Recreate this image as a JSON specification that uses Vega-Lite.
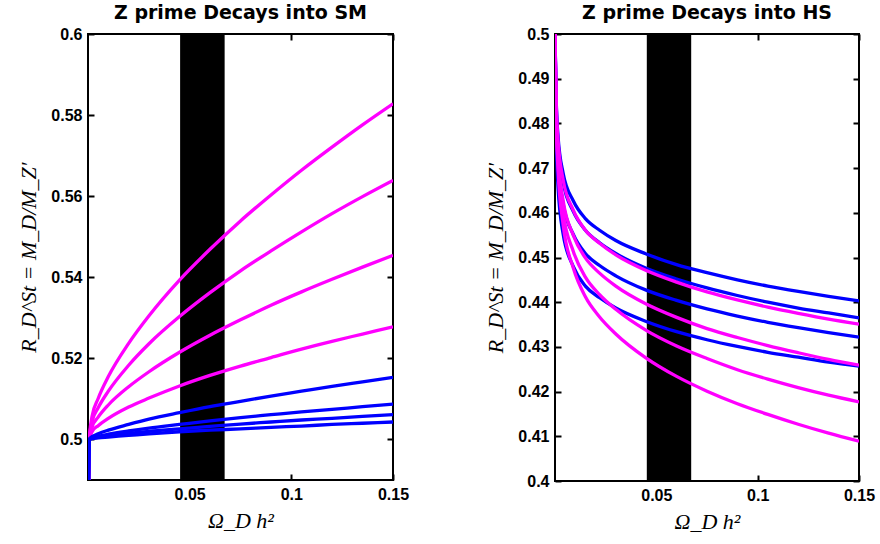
{
  "$schema": "https://vega.github.io/schema/vega-lite/v6.json",
  "background": "white",
  "padding": {"left": 16, "top": 3, "right": 5, "bottom": 5},
  "bounds": "flush",
  "spacing": 162,
  "config": {
    "view": {"stroke": "black", "strokeWidth": 2},
    "axis": {
      "grid": false, "domain": false, "labelFlush": false, "labelOverlap": false,
      "labelFont": "Liberation Sans", "labelFontWeight": "bold", "labelFontSize": 16, "labelColor": "black",
      "tickColor": "black", "tickWidth": 2, "tickSize": -6, "labelPadding": 12,
      "titleFont": "Liberation Serif", "titleFontStyle": "italic", "titleFontWeight": "normal", "titleFontSize": 22, "titleColor": "black"
    },
    "title": {"font": "DejaVu Sans", "fontSize": 19, "fontWeight": "bold", "color": "black", "anchor": "middle", "offset": 3}
  },
  "datasets": {
    "band": [{"x0": 0.0453, "x1": 0.0672}],
    "sm": [
      {"series":"M1","family":"A","x":0,"y":0.47},{"series":"M1","family":"A","x":0.0006,"y":0.5},{"series":"M1","family":"A","x":0.002,"y":0.5057},{"series":"M1","family":"A","x":0.005,"y":0.5101},{"series":"M1","family":"A","x":0.01,"y":0.5155},{"series":"M1","family":"A","x":0.02,"y":0.5237},{"series":"M1","family":"A","x":0.03,"y":0.5305},{"series":"M1","family":"A","x":0.045,"y":0.5393},{"series":"M1","family":"A","x":0.06,"y":0.5469},{"series":"M1","family":"A","x":0.075,"y":0.5539},{"series":"M1","family":"A","x":0.09,"y":0.5603},{"series":"M1","family":"A","x":0.105,"y":0.5664},{"series":"M1","family":"A","x":0.12,"y":0.5721},{"series":"M1","family":"A","x":0.135,"y":0.5776},{"series":"M1","family":"A","x":0.15,"y":0.5828},
      {"series":"M2","family":"A","x":0,"y":0.47},{"series":"M2","family":"A","x":0.0006,"y":0.5},{"series":"M2","family":"A","x":0.002,"y":0.5044},{"series":"M2","family":"A","x":0.005,"y":0.5078},{"series":"M2","family":"A","x":0.01,"y":0.5119},{"series":"M2","family":"A","x":0.02,"y":0.5183},{"series":"M2","family":"A","x":0.03,"y":0.5236},{"series":"M2","family":"A","x":0.045,"y":0.5303},{"series":"M2","family":"A","x":0.06,"y":0.5362},{"series":"M2","family":"A","x":0.075,"y":0.5416},{"series":"M2","family":"A","x":0.09,"y":0.5465},{"series":"M2","family":"A","x":0.105,"y":0.5512},{"series":"M2","family":"A","x":0.12,"y":0.5557},{"series":"M2","family":"A","x":0.135,"y":0.5599},{"series":"M2","family":"A","x":0.15,"y":0.5639},
      {"series":"M3","family":"A","x":0,"y":0.47},{"series":"M3","family":"A","x":0.0006,"y":0.5},{"series":"M3","family":"A","x":0.002,"y":0.5031},{"series":"M3","family":"A","x":0.005,"y":0.5055},{"series":"M3","family":"A","x":0.01,"y":0.5085},{"series":"M3","family":"A","x":0.02,"y":0.5130},{"series":"M3","family":"A","x":0.03,"y":0.5167},{"series":"M3","family":"A","x":0.045,"y":0.5215},{"series":"M3","family":"A","x":0.06,"y":0.5257},{"series":"M3","family":"A","x":0.075,"y":0.5295},{"series":"M3","family":"A","x":0.09,"y":0.5331},{"series":"M3","family":"A","x":0.105,"y":0.5364},{"series":"M3","family":"A","x":0.12,"y":0.5395},{"series":"M3","family":"A","x":0.135,"y":0.5425},{"series":"M3","family":"A","x":0.15,"y":0.5454},
      {"series":"M4","family":"A","x":0,"y":0.47},{"series":"M4","family":"A","x":0.0006,"y":0.5},{"series":"M4","family":"A","x":0.002,"y":0.5019},{"series":"M4","family":"A","x":0.005,"y":0.5034},{"series":"M4","family":"A","x":0.01,"y":0.5052},{"series":"M4","family":"A","x":0.02,"y":0.5080},{"series":"M4","family":"A","x":0.03,"y":0.5102},{"series":"M4","family":"A","x":0.045,"y":0.5132},{"series":"M4","family":"A","x":0.06,"y":0.5158},{"series":"M4","family":"A","x":0.075,"y":0.5181},{"series":"M4","family":"A","x":0.09,"y":0.5202},{"series":"M4","family":"A","x":0.105,"y":0.5223},{"series":"M4","family":"A","x":0.12,"y":0.5242},{"series":"M4","family":"A","x":0.135,"y":0.5260},{"series":"M4","family":"A","x":0.15,"y":0.5278},
      {"series":"B1","family":"B","x":0,"y":0.47},{"series":"B1","family":"B","x":0.0006,"y":0.5},{"series":"B1","family":"B","x":0.002,"y":0.5007},{"series":"B1","family":"B","x":0.005,"y":0.5014},{"series":"B1","family":"B","x":0.01,"y":0.5023},{"series":"B1","family":"B","x":0.02,"y":0.5037},{"series":"B1","family":"B","x":0.03,"y":0.5050},{"series":"B1","family":"B","x":0.045,"y":0.5066},{"series":"B1","family":"B","x":0.06,"y":0.5081},{"series":"B1","family":"B","x":0.075,"y":0.5094},{"series":"B1","family":"B","x":0.09,"y":0.5107},{"series":"B1","family":"B","x":0.105,"y":0.5119},{"series":"B1","family":"B","x":0.12,"y":0.5131},{"series":"B1","family":"B","x":0.135,"y":0.5142},{"series":"B1","family":"B","x":0.15,"y":0.5153},
      {"series":"B2","family":"B","x":0,"y":0.47},{"series":"B2","family":"B","x":0.0006,"y":0.5},{"series":"B2","family":"B","x":0.002,"y":0.5004},{"series":"B2","family":"B","x":0.005,"y":0.5008},{"series":"B2","family":"B","x":0.01,"y":0.5013},{"series":"B2","family":"B","x":0.02,"y":0.5021},{"series":"B2","family":"B","x":0.03,"y":0.5028},{"series":"B2","family":"B","x":0.045,"y":0.5037},{"series":"B2","family":"B","x":0.06,"y":0.5046},{"series":"B2","family":"B","x":0.075,"y":0.5054},{"series":"B2","family":"B","x":0.09,"y":0.5061},{"series":"B2","family":"B","x":0.105,"y":0.5068},{"series":"B2","family":"B","x":0.12,"y":0.5074},{"series":"B2","family":"B","x":0.135,"y":0.5081},{"series":"B2","family":"B","x":0.15,"y":0.5087},
      {"series":"B3","family":"B","x":0,"y":0.47},{"series":"B3","family":"B","x":0.0006,"y":0.5},{"series":"B3","family":"B","x":0.002,"y":0.5003},{"series":"B3","family":"B","x":0.005,"y":0.5006},{"series":"B3","family":"B","x":0.01,"y":0.5009},{"series":"B3","family":"B","x":0.02,"y":0.5015},{"series":"B3","family":"B","x":0.03,"y":0.5020},{"series":"B3","family":"B","x":0.045,"y":0.5026},{"series":"B3","family":"B","x":0.06,"y":0.5032},{"series":"B3","family":"B","x":0.075,"y":0.5038},{"series":"B3","family":"B","x":0.09,"y":0.5043},{"series":"B3","family":"B","x":0.105,"y":0.5048},{"series":"B3","family":"B","x":0.12,"y":0.5052},{"series":"B3","family":"B","x":0.135,"y":0.5057},{"series":"B3","family":"B","x":0.15,"y":0.5061},
      {"series":"B4","family":"B","x":0,"y":0.47},{"series":"B4","family":"B","x":0.0006,"y":0.5},{"series":"B4","family":"B","x":0.002,"y":0.5002},{"series":"B4","family":"B","x":0.005,"y":0.5004},{"series":"B4","family":"B","x":0.01,"y":0.5006},{"series":"B4","family":"B","x":0.02,"y":0.5010},{"series":"B4","family":"B","x":0.03,"y":0.5014},{"series":"B4","family":"B","x":0.045,"y":0.5019},{"series":"B4","family":"B","x":0.06,"y":0.5023},{"series":"B4","family":"B","x":0.075,"y":0.5026},{"series":"B4","family":"B","x":0.09,"y":0.5030},{"series":"B4","family":"B","x":0.105,"y":0.5033},{"series":"B4","family":"B","x":0.12,"y":0.5037},{"series":"B4","family":"B","x":0.135,"y":0.5040},{"series":"B4","family":"B","x":0.15,"y":0.5043}
    ],
    "hs": [
      {"series":"B1","family":"B","x":0,"y":0.5},{"series":"B1","family":"B","x":0.0005,"y":0.4868},{"series":"B1","family":"B","x":0.0015,"y":0.4771},{"series":"B1","family":"B","x":0.004,"y":0.4689},{"series":"B1","family":"B","x":0.009,"y":0.4627},{"series":"B1","family":"B","x":0.015,"y":0.4587},{"series":"B1","family":"B","x":0.022,"y":0.4561},{"series":"B1","family":"B","x":0.03,"y":0.4538},{"series":"B1","family":"B","x":0.045,"y":0.4508},{"series":"B1","family":"B","x":0.06,"y":0.4484},{"series":"B1","family":"B","x":0.075,"y":0.4466},{"series":"B1","family":"B","x":0.09,"y":0.4450},{"series":"B1","family":"B","x":0.105,"y":0.4436},{"series":"B1","family":"B","x":0.12,"y":0.4424},{"series":"B1","family":"B","x":0.135,"y":0.4413},{"series":"B1","family":"B","x":0.15,"y":0.4403},
      {"series":"B2","family":"B","x":0,"y":0.5},{"series":"B2","family":"B","x":0.0005,"y":0.4860},{"series":"B2","family":"B","x":0.0015,"y":0.4757},{"series":"B2","family":"B","x":0.004,"y":0.4669},{"series":"B2","family":"B","x":0.009,"y":0.4603},{"series":"B2","family":"B","x":0.015,"y":0.4561},{"series":"B2","family":"B","x":0.022,"y":0.4533},{"series":"B2","family":"B","x":0.03,"y":0.4509},{"series":"B2","family":"B","x":0.045,"y":0.4476},{"series":"B2","family":"B","x":0.06,"y":0.4452},{"series":"B2","family":"B","x":0.075,"y":0.4432},{"series":"B2","family":"B","x":0.09,"y":0.4415},{"series":"B2","family":"B","x":0.105,"y":0.4400},{"series":"B2","family":"B","x":0.12,"y":0.4387},{"series":"B2","family":"B","x":0.135,"y":0.4376},{"series":"B2","family":"B","x":0.15,"y":0.4365},
      {"series":"B3","family":"B","x":0,"y":0.5},{"series":"B3","family":"B","x":0.0005,"y":0.4832},{"series":"B3","family":"B","x":0.0015,"y":0.4715},{"series":"B3","family":"B","x":0.004,"y":0.4620},{"series":"B3","family":"B","x":0.009,"y":0.4552},{"series":"B3","family":"B","x":0.015,"y":0.4509},{"series":"B3","family":"B","x":0.022,"y":0.4482},{"series":"B3","family":"B","x":0.03,"y":0.4459},{"series":"B3","family":"B","x":0.045,"y":0.4427},{"series":"B3","family":"B","x":0.06,"y":0.4404},{"series":"B3","family":"B","x":0.075,"y":0.4385},{"series":"B3","family":"B","x":0.09,"y":0.4369},{"series":"B3","family":"B","x":0.105,"y":0.4355},{"series":"B3","family":"B","x":0.12,"y":0.4343},{"series":"B3","family":"B","x":0.135,"y":0.4332},{"series":"B3","family":"B","x":0.15,"y":0.4322},
      {"series":"B4","family":"B","x":0,"y":0.5},{"series":"B4","family":"B","x":0.0005,"y":0.4794},{"series":"B4","family":"B","x":0.0015,"y":0.4658},{"series":"B4","family":"B","x":0.004,"y":0.4553},{"series":"B4","family":"B","x":0.009,"y":0.4480},{"series":"B4","family":"B","x":0.015,"y":0.4436},{"series":"B4","family":"B","x":0.022,"y":0.4410},{"series":"B4","family":"B","x":0.03,"y":0.4387},{"series":"B4","family":"B","x":0.045,"y":0.4357},{"series":"B4","family":"B","x":0.06,"y":0.4334},{"series":"B4","family":"B","x":0.075,"y":0.4316},{"series":"B4","family":"B","x":0.09,"y":0.4301},{"series":"B4","family":"B","x":0.105,"y":0.4288},{"series":"B4","family":"B","x":0.12,"y":0.4277},{"series":"B4","family":"B","x":0.135,"y":0.4266},{"series":"B4","family":"B","x":0.15,"y":0.4257},
      {"series":"M1","family":"A","x":0,"y":0.5},{"series":"M1","family":"A","x":0.0005,"y":0.4865},{"series":"M1","family":"A","x":0.0015,"y":0.4763},{"series":"M1","family":"A","x":0.004,"y":0.4674},{"series":"M1","family":"A","x":0.009,"y":0.4606},{"series":"M1","family":"A","x":0.015,"y":0.4561},{"series":"M1","family":"A","x":0.022,"y":0.4532},{"series":"M1","family":"A","x":0.03,"y":0.4506},{"series":"M1","family":"A","x":0.045,"y":0.4471},{"series":"M1","family":"A","x":0.06,"y":0.4445},{"series":"M1","family":"A","x":0.075,"y":0.4423},{"series":"M1","family":"A","x":0.09,"y":0.4405},{"series":"M1","family":"A","x":0.105,"y":0.4389},{"series":"M1","family":"A","x":0.12,"y":0.4375},{"series":"M1","family":"A","x":0.135,"y":0.4362},{"series":"M1","family":"A","x":0.15,"y":0.4351},
      {"series":"M2","family":"A","x":0,"y":0.5},{"series":"M2","family":"A","x":0.0005,"y":0.4845},{"series":"M2","family":"A","x":0.0015,"y":0.4729},{"series":"M2","family":"A","x":0.004,"y":0.4628},{"series":"M2","family":"A","x":0.009,"y":0.4550},{"series":"M2","family":"A","x":0.015,"y":0.4499},{"series":"M2","family":"A","x":0.022,"y":0.4465},{"series":"M2","family":"A","x":0.03,"y":0.4436},{"series":"M2","family":"A","x":0.045,"y":0.4396},{"series":"M2","family":"A","x":0.06,"y":0.4366},{"series":"M2","family":"A","x":0.075,"y":0.4341},{"series":"M2","family":"A","x":0.09,"y":0.4321},{"series":"M2","family":"A","x":0.105,"y":0.4303},{"series":"M2","family":"A","x":0.12,"y":0.4287},{"series":"M2","family":"A","x":0.135,"y":0.4272},{"series":"M2","family":"A","x":0.15,"y":0.4259},
      {"series":"M3","family":"A","x":0,"y":0.5},{"series":"M3","family":"A","x":0.0005,"y":0.4838},{"series":"M3","family":"A","x":0.0015,"y":0.4713},{"series":"M3","family":"A","x":0.004,"y":0.4601},{"series":"M3","family":"A","x":0.009,"y":0.4514},{"series":"M3","family":"A","x":0.015,"y":0.4456},{"series":"M3","family":"A","x":0.022,"y":0.4417},{"series":"M3","family":"A","x":0.03,"y":0.4384},{"series":"M3","family":"A","x":0.045,"y":0.4337},{"series":"M3","family":"A","x":0.06,"y":0.4302},{"series":"M3","family":"A","x":0.075,"y":0.4274},{"series":"M3","family":"A","x":0.09,"y":0.4249},{"series":"M3","family":"A","x":0.105,"y":0.4228},{"series":"M3","family":"A","x":0.12,"y":0.4209},{"series":"M3","family":"A","x":0.135,"y":0.4192},{"series":"M3","family":"A","x":0.15,"y":0.4177},
      {"series":"M4","family":"A","x":0,"y":0.5},{"series":"M4","family":"A","x":0.0005,"y":0.4830},{"series":"M4","family":"A","x":0.0015,"y":0.4696},{"series":"M4","family":"A","x":0.004,"y":0.4574},{"series":"M4","family":"A","x":0.009,"y":0.4477},{"series":"M4","family":"A","x":0.015,"y":0.4412},{"series":"M4","family":"A","x":0.022,"y":0.4367},{"series":"M4","family":"A","x":0.03,"y":0.4329},{"series":"M4","family":"A","x":0.045,"y":0.4275},{"series":"M4","family":"A","x":0.06,"y":0.4234},{"series":"M4","family":"A","x":0.075,"y":0.4201},{"series":"M4","family":"A","x":0.09,"y":0.4173},{"series":"M4","family":"A","x":0.105,"y":0.4149},{"series":"M4","family":"A","x":0.12,"y":0.4127},{"series":"M4","family":"A","x":0.135,"y":0.4107},{"series":"M4","family":"A","x":0.15,"y":0.4089}
    ]
  },
  "hconcat": [
    {
      "width": 305, "height": 446,
      "title": {"text": "Z prime Decays into SM"},
      "resolve": {"axis": {"x": "independent", "y": "independent"}},
      "layer": [
        {
          "data": {"name": "band"},
          "mark": {"type": "rect", "color": "black"},
          "encoding": {
            "x": {"field": "x0", "type": "quantitative", "scale": {"domain": [0, 0.15], "nice": false}, "axis": null},
            "x2": {"field": "x1"}
          }
        },
        {
          "data": {"name": "sm"},
          "mark": {"type": "line", "strokeWidth": 3.3, "interpolate": "monotone", "clip": true},
          "encoding": {
            "x": {"field": "x", "type": "quantitative", "scale": {"domain": [0, 0.15], "nice": false},
                  "axis": {"orient": "bottom", "values": [0.05, 0.1, 0.15], "format": ".2~f", "title": "Ω_D h²", "titlePadding": 8}},
            "y": {"field": "y", "type": "quantitative", "scale": {"domain": [0.49, 0.6], "nice": false, "zero": false},
                  "axis": {"orient": "left", "values": [0.5, 0.52, 0.54, 0.56, 0.58, 0.6], "format": ".2~f", "title": "R_D^St = M_D/M_Z′", "titlePadding": 10}},
            "color": {"field": "family", "type": "nominal", "scale": {"domain": ["A", "B"], "range": ["#FF00FF", "#0000FF"]}, "legend": null},
            "detail": {"field": "series"}
          }
        },
        {
          "data": {"name": "sm"},
          "mark": {"type": "line", "strokeOpacity": 0, "clip": true},
          "encoding": {
            "x": {"field": "x", "type": "quantitative", "scale": {"domain": [0, 0.15], "nice": false},
                  "axis": {"orient": "top", "values": [0.05, 0.1, 0.15], "labels": false, "title": null}},
            "y": {"field": "y", "type": "quantitative", "scale": {"domain": [0.49, 0.6], "nice": false, "zero": false},
                  "axis": {"orient": "right", "values": [0.5, 0.52, 0.54, 0.56, 0.58, 0.6], "labels": false, "title": null}},
            "detail": {"field": "series"}
          }
        }
      ]
    },
    {
      "width": 304, "height": 447,
      "title": {"text": "Z prime Decays into HS"},
      "resolve": {"axis": {"x": "independent", "y": "independent"}},
      "layer": [
        {
          "data": {"name": "band"},
          "mark": {"type": "rect", "color": "black"},
          "encoding": {
            "x": {"field": "x0", "type": "quantitative", "scale": {"domain": [0, 0.15], "nice": false}, "axis": null},
            "x2": {"field": "x1"}
          }
        },
        {
          "data": {"name": "hs"},
          "mark": {"type": "line", "strokeWidth": 3.3, "interpolate": "monotone", "clip": true},
          "encoding": {
            "x": {"field": "x", "type": "quantitative", "scale": {"domain": [0, 0.15], "nice": false},
                  "axis": {"orient": "bottom", "values": [0.05, 0.1, 0.15], "format": ".2~f", "title": "Ω_D h²", "titlePadding": 8}},
            "y": {"field": "y", "type": "quantitative", "scale": {"domain": [0.4, 0.5], "nice": false, "zero": false},
                  "axis": {"orient": "left", "values": [0.4, 0.41, 0.42, 0.43, 0.44, 0.45, 0.46, 0.47, 0.48, 0.49, 0.5], "format": ".2~f", "title": "R_D^St = M_D/M_Z′", "titlePadding": 10}},
            "color": {"field": "family", "type": "nominal", "scale": {"domain": ["A", "B"], "range": ["#FF00FF", "#0000FF"]}, "legend": null},
            "detail": {"field": "series"}
          }
        },
        {
          "data": {"name": "hs"},
          "mark": {"type": "line", "strokeOpacity": 0, "clip": true},
          "encoding": {
            "x": {"field": "x", "type": "quantitative", "scale": {"domain": [0, 0.15], "nice": false},
                  "axis": {"orient": "top", "values": [0.05, 0.1, 0.15], "labels": false, "title": null}},
            "y": {"field": "y", "type": "quantitative", "scale": {"domain": [0.4, 0.5], "nice": false, "zero": false},
                  "axis": {"orient": "right", "values": [0.4, 0.41, 0.42, 0.43, 0.44, 0.45, 0.46, 0.47, 0.48, 0.49, 0.5], "labels": false, "title": null}},
            "detail": {"field": "series"}
          }
        }
      ]
    }
  ]
}
